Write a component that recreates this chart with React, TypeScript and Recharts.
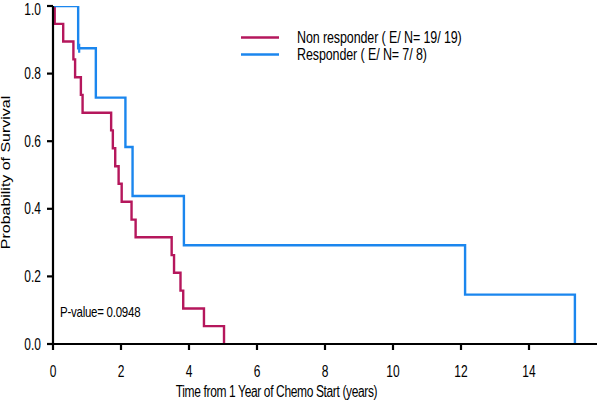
import React from "react";
import { ComposedChart, Line, Scatter, XAxis, YAxis } from "recharts";

const TIMES_NR = [0, 0.05, 0.3, 0.6, 0.65, 0.82, 0.87, 1.71, 1.76, 1.83, 1.93, 2.02, 2.31, 2.43, 3.49, 3.56, 3.75, 3.83, 4.44, 5.03];
const SURV_NR = [1, 0.947, 0.895, 0.842, 0.789, 0.737, 0.684, 0.632, 0.579, 0.526, 0.474, 0.421, 0.368, 0.316, 0.263, 0.211, 0.158, 0.105, 0.053, 0];
const TIMES_R = [0, 0.74, 1.26, 2.13, 2.34, 3.85, 12.12, 15.35];
const SURV_R = [1, 0.875, 0.729, 0.583, 0.438, 0.292, 0.146, 0];
const CENSOR_T_R = [0.77];
const CENSOR_S_R = [0.875];

const X_TICKS = [0, 2, 4, 6, 8, 10, 12, 14];
const Y_TICKS = [0, 0.2, 0.4, 0.6, 0.8, 1.0];

const SERIES_NAMES = ["Non responder ( E/ N= 19/ 19)", "Responder ( E/ N= 7/ 8)"];
const P_VALUE_TEXT = "P-value= 0.0948";
const X_TITLE = "Time from 1 Year of Chemo Start (years)";
const Y_TITLE = "Probability of Survival";

const RED = "#B5175C";
const BLUE = "#1B86EE";
const FONT = "'Liberation Sans', Arial, sans-serif";

const nrData = TIMES_NR.map((t, i) => ({ t, s: SURV_NR[i] }));
const rData = TIMES_R.map((t, i) => ({ t, s: SURV_R[i] }));
const censorData = CENSOR_T_R.map((t, i) => ({ t, s: CENSOR_S_R[i] }));

const XTick = (props: any) => {
  const { x, y, payload } = props;
  return (
    <text
      transform={`translate(${x},${y}) scale(1,1.3)`}
      textAnchor="middle"
      dy="0.71em"
      fontSize={12}
      fontFamily={FONT}
      fill="#000"
    >
      {String(payload.value)}
    </text>
  );
};

const YTick = (props: any) => {
  const { x, y, payload } = props;
  return (
    <text
      transform={`translate(${x},${y}) scale(1,1.3)`}
      textAnchor="end"
      dy="0.355em"
      fontSize={12}
      fontFamily={FONT}
      fill="#000"
    >
      {Number(payload.value).toFixed(1)}
    </text>
  );
};

const CensorMark = (props: any) => {
  const { cx, cy } = props;
  return <line x1={cx} x2={cx} y1={cy - 4.5} y2={cy + 4.5} stroke={BLUE} strokeWidth={2.2} />;
};

const Overlay = () => {
  const rows = [
    { name: SERIES_NAMES[0], color: RED, y: 37.5 },
    { name: SERIES_NAMES[1], color: BLUE, y: 54.5 },
  ];
  return (
    <svg width={600} height={401} style={{ position: "absolute", left: 0, top: 0, pointerEvents: "none" }}>
      {rows.map((r) => (
        <g key={r.name}>
          <line x1={241} x2={279} y1={r.y} y2={r.y} stroke={r.color} strokeWidth={2.4} />
          <text
            transform={`translate(297,${r.y}) scale(1,1.25)`}
            dy="0.355em"
            fontSize={12.5}
            fontFamily={FONT}
            letterSpacing={-0.1}
            fill="#000"
          >
            {r.name}
          </text>
        </g>
      ))}
      <text
        transform={`translate(60,311.5) scale(1,1.3)`}
        dy="0.355em"
        fontSize={11.5}
        fontFamily={FONT}
        letterSpacing={-0.25}
        fill="#000"
      >
        {P_VALUE_TEXT}
      </text>
      <text
        transform={`translate(276.5,391) scale(1,1.3)`}
        textAnchor="middle"
        dy="0.355em"
        fontSize={12}
        fontFamily={FONT}
        letterSpacing={-0.36}
        fill="#000"
      >
        {X_TITLE}
      </text>
      <text
        transform={`translate(10,172.5) rotate(-90) scale(1.33,1)`}
        textAnchor="middle"
        fontSize={12}
        fontFamily={FONT}
        fill="#000"
      >
        {Y_TITLE}
      </text>
    </svg>
  );
};

export default function App() {
  return (
    <div style={{ position: "absolute", left: 0, top: 0, width: 600, height: 401, background: "#fff" }}>
      <ComposedChart width={600} height={401} margin={{ top: 6, right: 3, bottom: 27, left: 8 }}>
        <XAxis
          type="number"
          dataKey="t"
          domain={[0, 16]}
          ticks={X_TICKS}
          allowDataOverflow
          axisLine={{ stroke: "#000", strokeWidth: 2.2 }}
          tickLine={{ stroke: "#000", strokeWidth: 2.2 }}
          tickSize={6}
          tickMargin={16}
          height={30}
          tick={<XTick />}
        />
        <YAxis
          type="number"
          dataKey="s"
          domain={[0, 1]}
          ticks={Y_TICKS}
          allowDataOverflow
          axisLine={{ stroke: "#000", strokeWidth: 2.2 }}
          tickLine={{ stroke: "#000", strokeWidth: 2.2 }}
          tickSize={6}
          tickMargin={6}
          width={45}
          tick={<YTick />}
        />
        <Line
          data={nrData}
          dataKey="s"
          name={SERIES_NAMES[0]}
          type="stepAfter"
          stroke={RED}
          strokeWidth={2.4}
          dot={false}
          activeDot={false}
          isAnimationActive={false}
        />
        <Line
          data={rData}
          dataKey="s"
          name={SERIES_NAMES[1]}
          type="stepAfter"
          stroke={BLUE}
          strokeWidth={2.4}
          dot={false}
          activeDot={false}
          isAnimationActive={false}
        />
        <Scatter data={censorData} dataKey="s" shape={<CensorMark />} isAnimationActive={false} legendType="none" />
      </ComposedChart>
      <Overlay />
    </div>
  );
}
